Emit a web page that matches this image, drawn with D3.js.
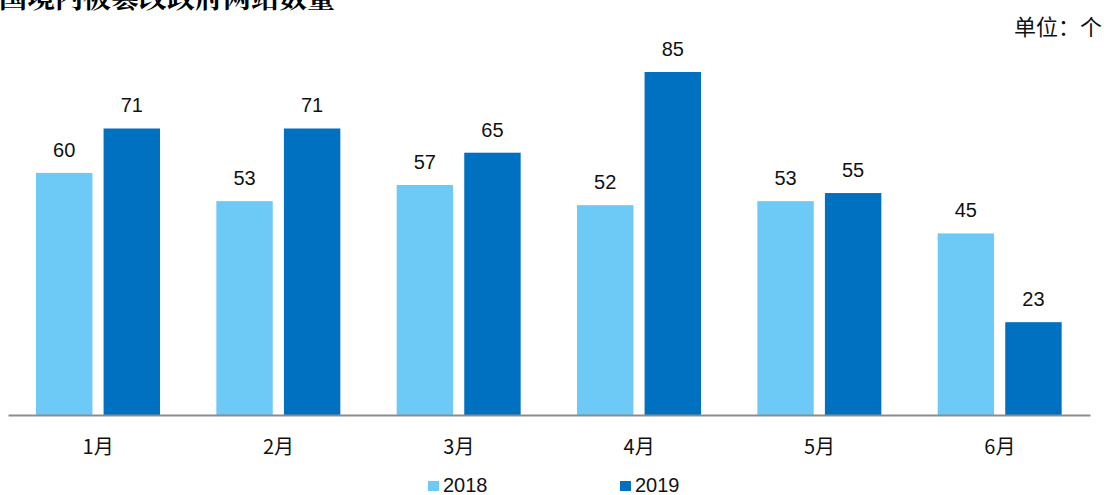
<!DOCTYPE html>
<html><head><meta charset="utf-8">
<script src="https://cdn.jsdelivr.net/npm/d3@7"></script>
<style>body{margin:0;background:#fff}svg{display:block}</style>
</head><body>
<script>
const categories = ["1月","2月","3月","4月","5月","6月"];
const seriesNames = ["2018","2019"];
const values2018 = [60,53,57,52,53,45];
const values2019 = [71,71,65,85,55,23];
const colors = ["#6DC9F5","#0070C0"];
const title = "国境内被篡改政府网站数量";
const unitLabel = "单位：个";

const W = 1104, H = 495;
const svg = d3.select("body").append("svg").attr("width", W).attr("height", H);

const x0 = d3.scaleBand().domain(categories).range([8, 1090]).paddingInner(0).paddingOuter(0);
const x1 = d3.scaleBand().domain(seriesNames).range([28, 152]).paddingInner(0.165);
const y = d3.scaleLinear().domain([0, 85]).range([415, 72]);

const data = categories.map((c, i) => ({cat: c, vals: [values2018[i], values2019[i]]}));

const g = svg.append("g");
const groups = g.selectAll("g.grp").data(data).join("g")
  .attr("transform", d => `translate(${x0(d.cat)},0)`);
groups.selectAll("rect").data(d => d.vals.map((v, j) => ({s: seriesNames[j], v, j}))).join("rect")
  .attr("x", d => x1(d.s)).attr("width", x1.bandwidth())
  .attr("y", d => y(d.v)).attr("height", d => y(0) - y(d.v))
  .attr("fill", d => colors[d.j]);
groups.selectAll("text").data(d => d.vals.map((v, j) => ({s: seriesNames[j], v, j}))).join("text")
  .attr("x", d => x1(d.s) + x1.bandwidth() / 2).attr("y", d => y(d.v) - 16)
  .attr("text-anchor", "middle").attr("font-family", "Liberation Sans, Arial, sans-serif")
  .attr("font-size", 20).attr("fill", "#111").text(d => d.v);

// x axis
const xAxis = d3.axisBottom(x0).tickSize(0).tickPadding(0);
const ax = svg.append("g").attr("transform", `translate(0,${y(0)})`).call(xAxis);
ax.select(".domain").attr("stroke", "#8c8c8c").attr("stroke-width", 2);
ax.selectAll("text").attr("dy", null).attr("y", 39).attr("font-family", "Noto Sans CJK SC, sans-serif")
  .attr("font-size", 20).attr("fill", "#111");

// title
svg.append("text").attr("x", -1).attr("y", 8).attr("font-family", "Noto Serif CJK SC, Noto Sans CJK SC, serif")
  .attr("font-weight", "bold").attr("font-size", 28).attr("fill", "#000").text(title);
svg.append("text").attr("x", 1102).attr("y", 35).attr("text-anchor", "end")
  .attr("font-family", "Noto Sans CJK SC, sans-serif").attr("font-size", 22).attr("fill", "#111").text(unitLabel);

// legend
const legendX = [428, 620];
const leg = svg.append("g").selectAll("g").data(seriesNames).join("g")
  .attr("transform", (d, i) => `translate(${legendX[i]},481)`);
leg.append("rect").attr("x", 0).attr("y", 0).attr("width", 11).attr("height", 10).attr("fill", (d, i) => colors[i]);
leg.append("text").attr("x", 15).attr("y", 11).attr("font-family", "Liberation Sans, Arial, sans-serif")
  .attr("font-size", 20).attr("fill", "#111").text(d => d);
</script>
</body></html>
